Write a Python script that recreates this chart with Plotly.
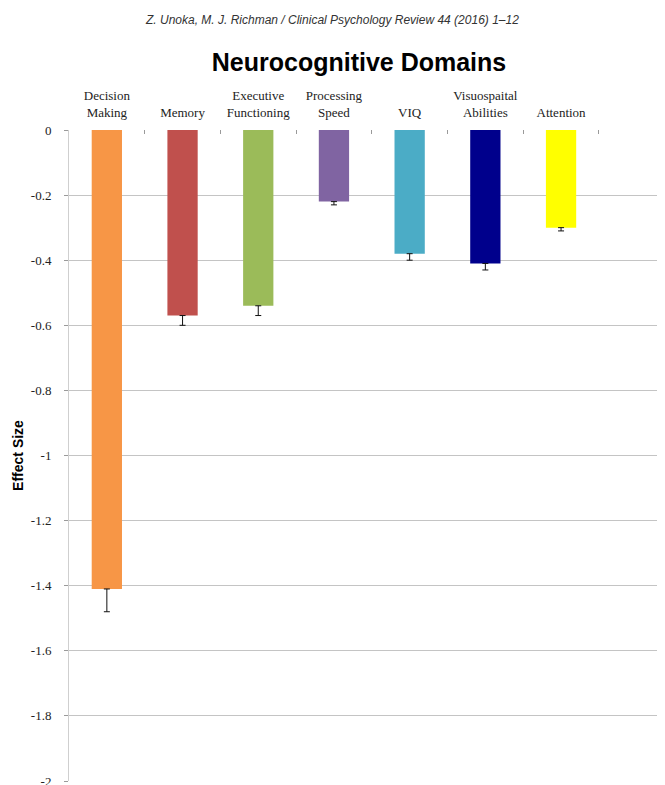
import plotly.graph_objects as go

categories = ["Decision<br>Making", "Memory", "Executive<br>Functioning", "Processing<br>Speed",
              "VIQ", "Visuospaital<br>Abilities", "Attention"]
effect_sizes = [-1.41, -0.57, -0.54, -0.22, -0.38, -0.41, -0.30]
error_minus = [0.07, 0.03, 0.03, 0.01, 0.02, 0.02, 0.01]
bar_colors = ["#F79646", "#C0504D", "#9BBB59", "#8064A2", "#4BACC6", "#00008C", "#FFFF00"]
y_tick_values = [0, -0.2, -0.4, -0.6, -0.8, -1, -1.2, -1.4, -1.6, -1.8, -2]
y_tick_labels = ["0", "-0.2", "-0.4", "-0.6", "-0.8", "-1", "-1.2", "-1.4", "-1.6", "-1.8", "-2"]

# the page body adds an 8px offset; figure coordinates below compensate for it
OFF = 8
W, H = 665, 785
L, T = 69 - OFF, 130 - OFF
PLOT_BOTTOM = 781 - OFF
B = H - PLOT_BOTTOM
slot = 75.7

fig = go.Figure()
fig.add_trace(go.Bar(
    x=categories, y=effect_sizes, width=0.4,
    marker=dict(color=bar_colors, line=dict(width=0)),
    error_y=dict(type="data", symmetric=False, array=[0] * len(error_minus),
                 arrayminus=error_minus, color="#111111", thickness=1, width=3),
))

serif = "Liberation Serif"
fig.update_layout(
    width=W, height=H,
    margin=dict(l=L, r=0, t=T, b=B, pad=0),
    paper_bgcolor="white", plot_bgcolor="white",
    showlegend=False,
    title=dict(text="<b>Neurocognitive Domains</b>", x=(359 - OFF) / W, xanchor="center",
               y=1 - (62 - OFF) / H, yanchor="middle",
               font=dict(family="Liberation Sans", size=25, color="#000000")),
    xaxis=dict(
        side="top", type="category", range=[-0.5, -0.5 + (W - L) / slot],
        tickson="boundaries", ticks="inside", ticklen=4, tickcolor="#9a9a9a", tickwidth=1,
        ticklabelstandoff=9,
        showgrid=False, showline=False, zeroline=False,
        tickfont=dict(family=serif, size=13, color="#222222"),
        automargin=False,
    ),
    yaxis=dict(
        range=[-2, 0], tickvals=y_tick_values, ticktext=y_tick_labels,
        ticks="outside", ticklen=4, tickcolor="#9a9a9a", ticklabelstandoff=10,
        showgrid=True, gridcolor="#c4c4c4", gridwidth=1,
        showline=True, linecolor="#cfcfcf", linewidth=1,
        zeroline=False,
        tickfont=dict(family=serif, size=13, color="#222222"),
        title=dict(text="<b>Effect Size</b>", standoff=3,
                   font=dict(family="Liberation Sans", size=14, color="#000000")),
        automargin=False,
    ),
)

fig.add_annotation(
    text="<i>Z. Unoka, M. J. Richman / Clinical Psychology Review 44 (2016) 1–12</i>",
    xref="paper", yref="paper",
    x=(332 - OFF - L) / (W - L), y=(PLOT_BOTTOM - (20 - OFF)) / (PLOT_BOTTOM - T),
    xanchor="center", yanchor="middle", showarrow=False,
    font=dict(family="Liberation Sans", size=12, color="#333333"),
)

fig.write_html("out.html")
